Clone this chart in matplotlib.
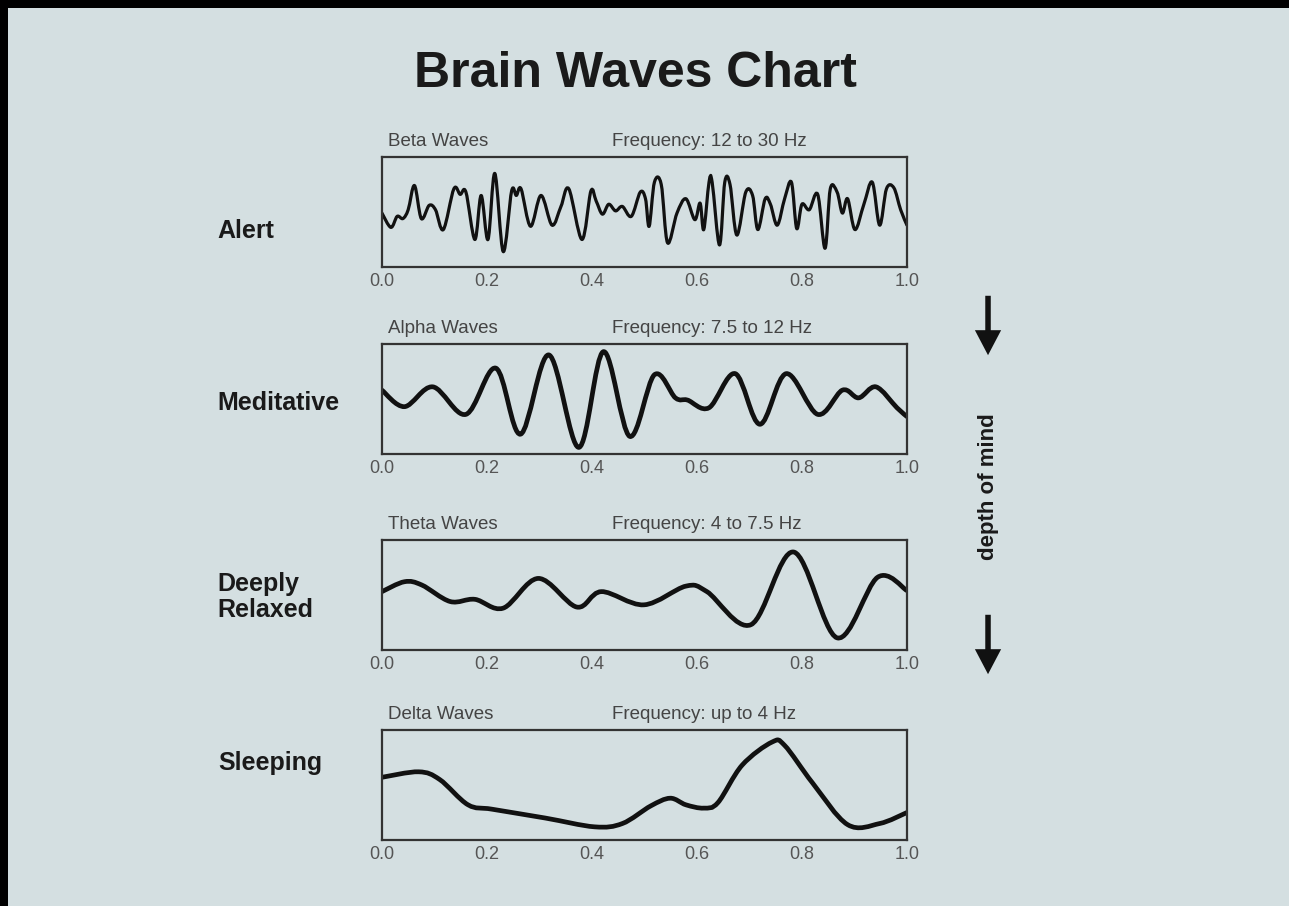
import matplotlib
matplotlib.use("Agg")
import matplotlib.pyplot as plt
from matplotlib.path import Path
from matplotlib.patches import PathPatch, FancyArrowPatch, Rectangle

plt.rcParams['font.family'] = ['Liberation Sans', 'DejaVu Sans']

bg = '#d4dfe1'

states = ['Alert', 'Meditative', 'Deeply\nRelaxed', 'Sleeping']
wave_names = ['Beta Waves', 'Alpha Waves', 'Theta Waves', 'Delta Waves']
freq_text = ['Frequency: 12 to 30 Hz', 'Frequency: 7.5 to 12 Hz',
             'Frequency: 4 to 7.5 Hz', 'Frequency: up to 4 Hz']
ticks = [0.0, 0.2, 0.4, 0.6, 0.8, 1.0]

# wave traces (x = time 0..1, y = % of box height)
beta_x = [0.0, 0.017, 0.029, 0.040, 0.050, 0.062, 0.075, 0.090, 0.102, 0.117,
          0.137, 0.149, 0.160, 0.177, 0.189, 0.202, 0.215, 0.231, 0.247, 0.256,
          0.265, 0.283, 0.303, 0.324, 0.341, 0.356, 0.381, 0.398, 0.408, 0.420,
          0.432, 0.445, 0.458, 0.475, 0.492, 0.502, 0.509, 0.519, 0.532, 0.544,
          0.562, 0.579, 0.596, 0.606, 0.613, 0.623, 0.629, 0.643, 0.653, 0.663,
          0.676, 0.693, 0.706, 0.716, 0.730, 0.740, 0.753, 0.767, 0.780, 0.790,
          0.800, 0.814, 0.830, 0.844, 0.854, 0.867, 0.877, 0.887, 0.901, 0.918,
          0.934, 0.948, 0.961, 0.975, 0.988, 1.0]
beta_y = [49, 36, 46, 44, 52, 74, 44, 56, 52, 34,
          71, 66, 68, 25, 65, 25, 85, 14, 69, 65,
          71, 37, 65, 38, 55, 71, 25, 69, 60, 48,
          57, 51, 55, 46, 68, 62, 37, 77, 75, 22,
          49, 62, 43, 58, 34, 77, 77, 20, 77, 75,
          29, 68, 65, 34, 62, 57, 38, 62, 77, 35,
          57, 52, 66, 17, 71, 68, 49, 62, 34, 57,
          77, 38, 71, 72, 52, 38]

alpha_x = [0.0, 0.043, 0.097, 0.160, 0.217, 0.264, 0.318, 0.375, 0.422, 0.472,
           0.519, 0.559, 0.582, 0.623, 0.673, 0.720, 0.770, 0.830, 0.877, 0.908,
           0.941, 0.981, 1.0]
alpha_y = [58, 43, 61, 36, 78, 18, 90, 6, 93, 16,
           72, 51, 49, 42, 73, 27, 73, 36, 58, 51,
           61, 42, 34]

theta_x = [0.0, 0.043, 0.076, 0.130, 0.177, 0.231, 0.298, 0.371, 0.418, 0.499,
           0.579, 0.619, 0.703, 0.784, 0.867, 0.944, 1.0]
theta_y = [53, 62, 59, 44, 46, 38, 65, 39, 53, 41,
           58, 53, 23, 89, 11, 66, 54]

delta_x = [0.0, 0.070, 0.110, 0.164, 0.210, 0.311, 0.405, 0.458, 0.512, 0.549,
           0.579, 0.613, 0.640, 0.686, 0.743, 0.767, 0.820, 0.887, 0.948, 1.0]
delta_y = [57, 62, 55, 32, 28, 20, 12, 15, 31, 38,
           32, 29, 34, 68, 89, 86, 52, 14, 15, 25]

waves = [(beta_x, beta_y), (alpha_x, alpha_y), (theta_x, theta_y), (delta_x, delta_y)]
line_w = [2.3, 3.4, 3.4, 3.4]


def smooth_path(xs, ys):
    # catmull-rom through the read points, drawn as bezier segments
    pts = list(zip(xs, ys))
    verts = [pts[0]]
    codes = [Path.MOVETO]
    n = len(pts)
    for i in range(n - 1):
        p0 = pts[max(i - 1, 0)]
        p1 = pts[i]
        p2 = pts[i + 1]
        p3 = pts[min(i + 2, n - 1)]
        c1 = (p1[0] + (p2[0] - p0[0]) / 6, p1[1] + (p2[1] - p0[1]) / 6)
        c2 = (p2[0] - (p3[0] - p1[0]) / 6, p2[1] - (p3[1] - p1[1]) / 6)
        verts += [c1, c2, p2]
        codes += [Path.CURVE4] * 3
    return Path(verts, codes)


fig = plt.figure(figsize=(12.89, 9.06), dpi=100, facecolor=bg)

bottoms = [0.7053, 0.4989, 0.2826, 0.0728]
label_y = [0.745, 0.555, 0.341, 0.158]

for i in range(4):
    ax = fig.add_axes([0.2963, bottoms[i], 0.4073, 0.1215])
    ax.set_facecolor(bg)
    xs, ys = waves[i]
    patch = PathPatch(smooth_path(xs, ys), fill=False, edgecolor='#111111',
                      lw=line_w[i], capstyle='round', joinstyle='round')
    ax.add_patch(patch)
    ax.set_xlim(0, 1)
    ax.set_ylim(0, 100)
    ax.set_yticks([])
    ax.set_xticks(ticks)
    ax.set_xticklabels(['%.1f' % t for t in ticks])
    ax.tick_params(axis='x', length=0, pad=4, labelsize=13, labelcolor='#555555')
    for s in ax.spines.values():
        s.set_color('#333333')
        s.set_linewidth(1.6)
    ax.annotate(wave_names[i], xy=(0.011, 1), xycoords='axes fraction',
                xytext=(0, 5), textcoords='offset points', ha='left', va='bottom',
                fontsize=13.5, color='#444444')
    ax.annotate(freq_text[i], xy=(0.438, 1), xycoords='axes fraction',
                xytext=(0, 5), textcoords='offset points', ha='left', va='bottom',
                fontsize=13.5, color='#444444')
    fig.text(0.169, label_y[i], states[i], ha='left', va='center',
             fontsize=18, fontweight='bold', color='#1a1a1a', linespacing=1.1)

fig.text(0.493, 0.918, 'Brain Waves Chart', ha='center', va='center',
         fontsize=36, fontweight='bold', color='#1a1a1a')

# depth of mind arrows
for y0, y1 in [(0.6766, 0.6049), (0.3245, 0.2528)]:
    arr = FancyArrowPatch((0.7665, y0), (0.7665, y1), transform=fig.transFigure,
                          arrowstyle='simple,head_length=1.0,head_width=1.05,tail_width=0.22',
                          mutation_scale=18, color='#111111', lw=0)
    fig.add_artist(arr)
fig.text(0.7665, 0.4625, 'depth of mind', rotation=90, ha='center', va='center',
         fontsize=16, fontweight='bold', color='#1a1a1a')

# dark frame strip on the top and left edges
fig.add_artist(Rectangle((0, 1 - 8 / 906), 1, 8 / 906, transform=fig.transFigure,
                         color='black', lw=0))
fig.add_artist(Rectangle((0, 0), 8 / 1289, 1, transform=fig.transFigure,
                         color='black', lw=0))

fig.savefig('out.png', dpi=100, facecolor=bg)
